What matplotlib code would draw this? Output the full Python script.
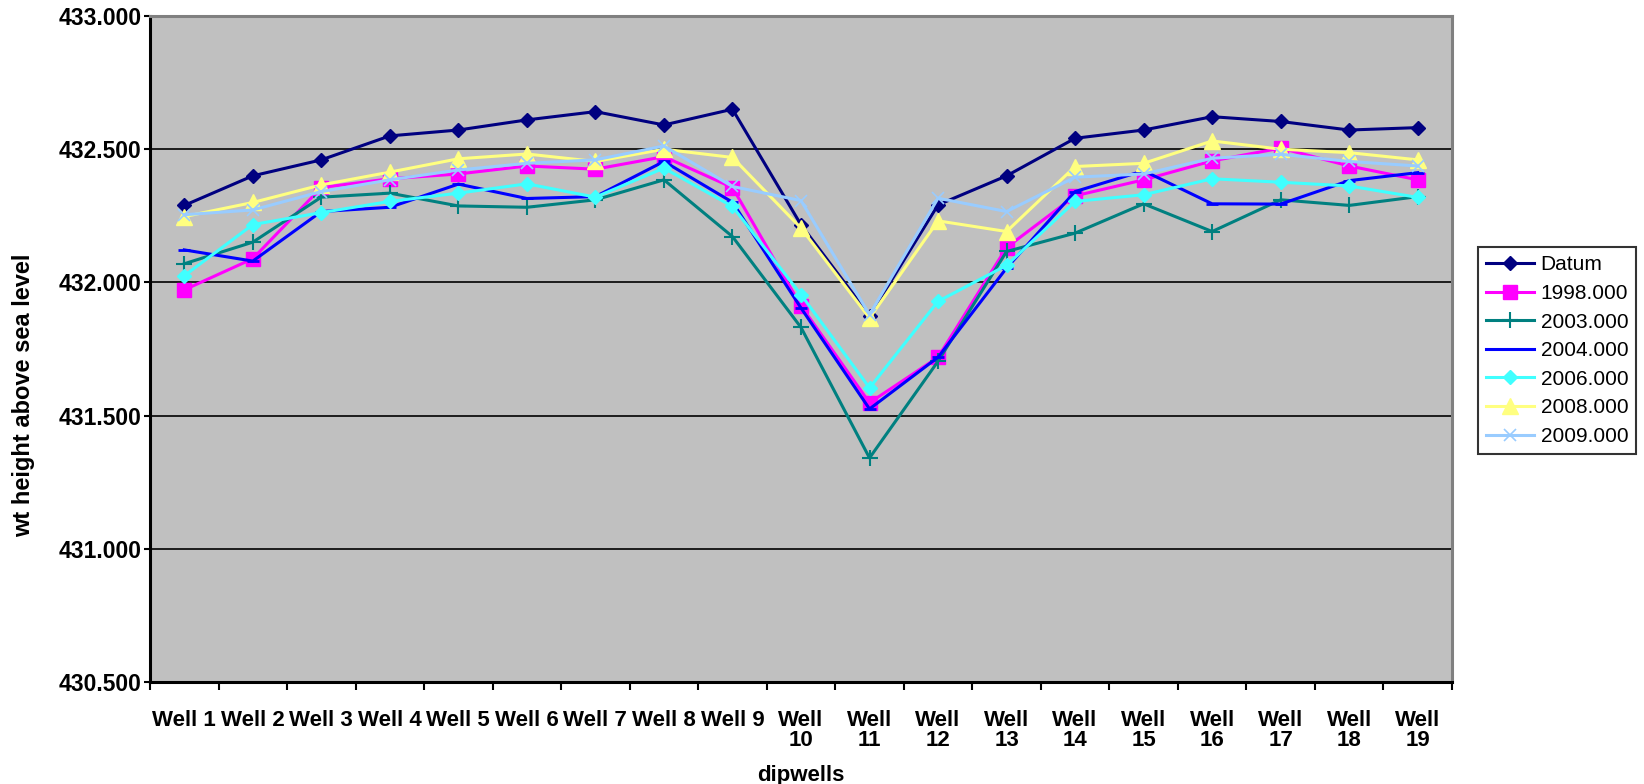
"""Dipwell water-table heights above sea level, Datum vs survey years."""

import matplotlib

matplotlib.use("Agg")
import matplotlib.pyplot as plt
from matplotlib.ticker import FixedLocator, FormatStrFormatter

wells = [f"Well {i}" if i < 10 else f"Well\n{i}" for i in range(1, 20)]

datum = [432.289, 432.400, 432.460, 432.550, 432.572, 432.610, 432.641, 432.591, 432.650, 432.216,
         431.875, 432.291, 432.400, 432.541, 432.572, 432.622, 432.604, 432.572, 432.581]
y1998 = [431.972, 432.089, 432.356, 432.389, 432.407, 432.437, 432.425, 432.472, 432.356, 431.912,
         431.548, 431.719, 432.131, 432.325, 432.385, 432.456, 432.504, 432.437, 432.385]
y2003 = [432.070, 432.151, 432.320, 432.335, 432.287, 432.282, 432.310, 432.385, 432.172, 431.831,
         431.341, 431.704, 432.116, 432.185, 432.295, 432.191, 432.310, 432.289, 432.322]
y2004 = [432.122, 432.080, 432.266, 432.282, 432.369, 432.315, 432.322, 432.454, 432.301, 431.904,
         431.525, 431.719, 432.054, 432.341, 432.419, 432.295, 432.294, 432.382, 432.412]
y2006 = [432.025, 432.217, 432.262, 432.304, 432.335, 432.370, 432.320, 432.429, 432.285, 431.954,
         431.604, 431.929, 432.064, 432.304, 432.329, 432.389, 432.376, 432.362, 432.319]
y2008 = [432.247, 432.300, 432.366, 432.414, 432.464, 432.482, 432.454, 432.500, 432.469, 432.204,
         431.866, 432.231, 432.191, 432.435, 432.447, 432.531, 432.500, 432.487, 432.460]
y2009 = [432.254, 432.272, 432.341, 432.385, 432.422, 432.447, 432.460, 432.512, 432.360, 432.307,
         431.879, 432.316, 432.266, 432.395, 432.407, 432.466, 432.481, 432.454, 432.437]

series_labels = ["Datum", "1998.000", "2003.000", "2004.000", "2006.000", "2008.000", "2009.000"]
y_ticks = [430.5, 431.0, 431.5, 432.0, 432.5, 433.0]


def main() -> None:
    plt.rcParams["font.family"] = ["Liberation Sans", "DejaVu Sans"]

    fig = plt.figure(figsize=(16.44, 7.84), dpi=100)
    ax = fig.add_axes([150 / 1644, 1 - 682 / 784, 1302 / 1644, 666 / 784])
    ax.set_facecolor("#c0c0c0")

    x = list(range(len(wells)))
    styles = [
        (datum, "#000080", "D", 7, 1.0),
        (y1998, "#ff00ff", "s", 10, 1.0),
        (y2003, "#008080", "+", 11, 1.5),
        (y2004, "#0000ff", "_", 9, 2.0),
        (y2006, "#40ffff", "D", 7, 1.0),
        (y2008, "#ffff80", "^", 11, 1.0),
        (y2009, "#99ccff", "x", 8, 1.2),
    ]
    for (vals, color, marker, ms, mew), label in zip(styles, series_labels):
        ax.plot(x, vals, color=color, marker=marker, markersize=ms, markeredgewidth=mew,
                linewidth=2.2, label=label, zorder=3)

    ax.set_xlim(-0.5, len(wells) - 0.5)
    ax.set_ylim(430.5, 433.0)
    ax.set_yticks(y_ticks)
    ax.yaxis.set_major_formatter(FormatStrFormatter("%.3f"))
    ax.grid(axis="y", color="black", linewidth=1.2, zorder=1)
    ax.set_axisbelow(True)

    ax.set_xticks(x)
    ax.set_xticklabels(wells, fontsize=16, fontweight="bold", linespacing=0.95)
    ax.xaxis.set_minor_locator(FixedLocator([i - 0.5 for i in range(len(wells) + 1)]))
    ax.tick_params(axis="x", which="major", length=0, pad=20)
    ax.tick_params(axis="x", which="minor", length=6, width=1.5, direction="out")
    ax.tick_params(axis="y", length=4, width=1.5, direction="out", pad=2, labelsize=16.5)
    for lbl in ax.get_yticklabels():
        lbl.set_fontweight("bold")

    for side in ("left", "bottom"):
        ax.spines[side].set_color("black")
        ax.spines[side].set_linewidth(2.2)
    for side in ("top", "right"):
        ax.spines[side].set_color("#808080")
        ax.spines[side].set_linewidth(2.2)

    fig.text(801 / 1644, 1 - 775 / 784, "dipwells", ha="center", va="center",
             fontsize=16, fontweight="bold")
    fig.text(24 / 1644, 1 - 395 / 784, "wt height above sea level", ha="center", va="center",
             rotation=90, fontsize=17, fontweight="bold")

    leg = fig.legend(loc="upper left", bbox_to_anchor=(1478 / 1644, 1 - 247 / 784),
                     fontsize=15, frameon=True, fancybox=False, edgecolor="black",
                     handlelength=2.3, handletextpad=0.3, labelspacing=0.46,
                     borderpad=0.4, borderaxespad=0)
    leg.get_frame().set_linewidth(1.5)

    fig.savefig("out.png", dpi=100, facecolor="white")


if __name__ == "__main__":
    main()
